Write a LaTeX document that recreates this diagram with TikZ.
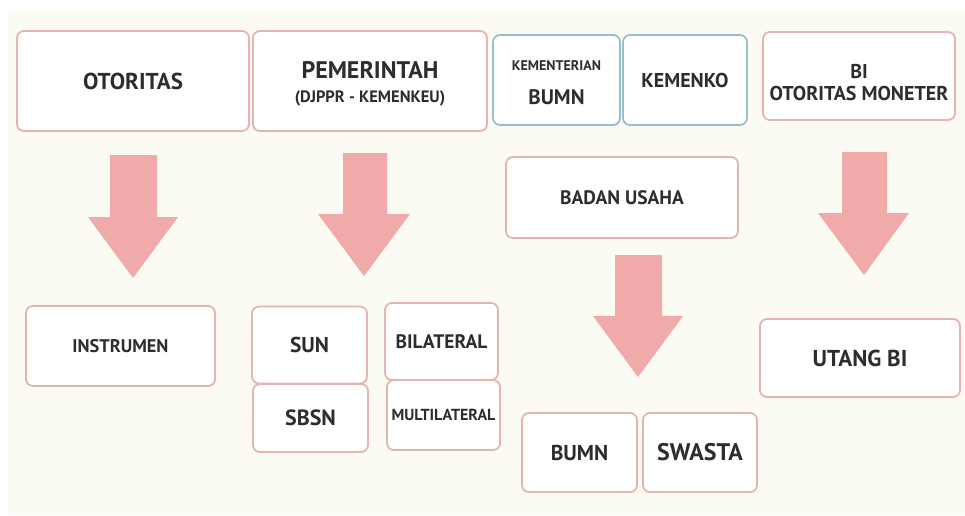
\documentclass[tikz,border=0pt]{standalone}
\usepackage{fontspec}
\setmainfont{PT Sans}
\definecolor{cream}{RGB}{252,251,243}
\definecolor{pinkline}{RGB}{228,180,180}
\definecolor{blueline}{RGB}{150,192,204}
\definecolor{arrowpink}{RGB}{240,170,170}
\definecolor{txt}{RGB}{45,45,45}
\tikzset{
  box/.style={draw=pinkline, line width=1.8pt, fill=white, rounded corners=7pt, inner sep=0pt, align=center, text=txt, font=\bfseries},
  bluebox/.style={box, draw=blueline},
  lbl/.style={inner sep=0pt, text=txt, font=\bfseries},
  bigarrow/.style={fill=arrowpink, draw=none},
}
\newcommand{\fs}[1]{\fontsize{#1}{#1}\selectfont}
\begin{document}
\begin{tikzpicture}[x=1pt,y=-1pt]
\useasboundingbox (0,0) rectangle (965,515);
\fill[white] (0,0) rectangle (965,515);
\fill[cream] (8,9) rectangle (965,515);

% top row
\node[box, minimum width=232, minimum height=100] (oto) at (133,81) {\fs{23}OTORITAS};
\node[box, minimum width=234, minimum height=100] (pem) at (370,81) {};
\node[lbl] (pem1) at (370,70) {\fs{24}PEMERINTAH};
\node[lbl] (pem2) at (370,98) {\fs{16.5}(DJPPR - KEMENKEU)};
\node[bluebox, minimum width=127, minimum height=90] (kbumn) at (556.5,80) {};
\node[lbl] (kbumn1) at (556.5,66) {\fs{14}KEMENTERIAN};
\node[lbl] (kbumn2) at (556.5,97) {\fs{21}BUMN};
\node[bluebox, minimum width=124, minimum height=90] (kemenko) at (685,80) {\fs{20}KEMENKO};
\node[box, minimum width=192, minimum height=88] (bi) at (859,76) {};
\node[lbl] (bi1) at (859,71.5) {\fs{20}BI};
\node[lbl] (bi2) at (859,93) {\fs{20}OTORITAS MONETER};
\node[box, minimum width=232, minimum height=81] (badan) at (622,197.5) {\fs{19.5}BADAN USAHA};

% bottom row
\node[box, minimum width=189, minimum height=80] (instr) at (120.5,346) {\fs{18.3}INSTRUMEN};
\node[box, minimum width=115, minimum height=68] (sbsn) at (310.5,418) {\fs{22}SBSN};
\node[box, minimum width=115, minimum height=77] (sun) at (309.5,345) {\fs{21.5}SUN};
\node[box, minimum width=113, minimum height=70] (multi) at (443.5,415) {\fs{16}MULTILATERAL};
\node[box, minimum width=113, minimum height=77] (bilat) at (441.5,341.5) {\fs{19.5}BILATERAL};
\node[box, minimum width=115, minimum height=79] (bumn) at (579.5,452.5) {\fs{21.5}BUMN};
\node[box, minimum width=114, minimum height=79] (swasta) at (700,452.5) {\fs{24}SWASTA};
\node[box, minimum width=200, minimum height=78] (utang) at (860,358) {\fs{23}UTANG BI};

% block arrows
\fill[bigarrow] (110,155) -- (157,155) -- (157,217) -- (178,217) -- (133,278) -- (88,217) -- (110,217) -- cycle;
\fill[bigarrow] (343,153) -- (387,153) -- (387,214) -- (410,214) -- (364,276) -- (318,214) -- (343,214) -- cycle;
\fill[bigarrow] (615,255) -- (662,255) -- (662,316) -- (683,316) -- (638,377) -- (593,316) -- (615,316) -- cycle;
\fill[bigarrow] (842,152) -- (887,152) -- (887,213) -- (909,213) -- (864,275) -- (818,213) -- (842,213) -- cycle;
\end{tikzpicture}
\end{document}
